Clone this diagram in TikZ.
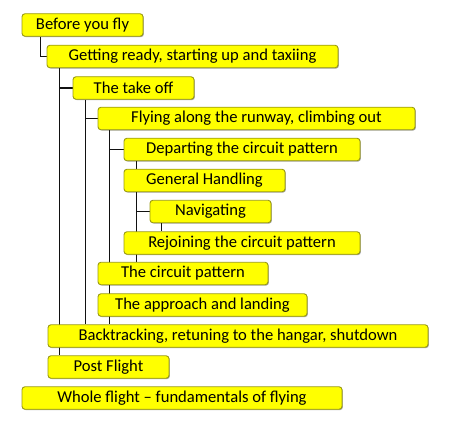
\documentclass[tikz,border=0pt]{standalone}
\usepackage{fontspec}
\setmainfont{Carlito}
\usetikzlibrary{shadows,backgrounds}
\definecolor{boxfill}{HTML}{FFFF00}
\definecolor{boxedge}{HTML}{9A9A10}
\definecolor{linec}{HTML}{111111}
\tikzset{
  box/.style={draw=boxedge, fill=boxfill, line width=0.9pt, rounded corners=3pt,
    minimum height=22.5pt, inner sep=0pt, align=center,
    font=\fontsize{16.6}{19}\selectfont,
    drop shadow={shadow xshift=0.9pt, shadow yshift=-0.9pt, opacity=0.35, fill=black}},
  conn/.style={draw=linec, line width=1.8pt}
}
\begin{document}
\begin{tikzpicture}[x=1pt,y=-1pt]
\useasboundingbox (0,0) rectangle (454,430);
\node[box, minimum width=121pt] (n1) at (82.5,25) {Before you fly};
\node[box, minimum width=291pt] (n2) at (192.5,56.5) {Getting ready, starting up and taxiing};
\node[box, minimum width=121pt] (n3) at (133.5,88) {The take off};
\node[box, minimum width=317pt] (n4) at (256.5,118.5) {Flying along the runway, climbing out};
\node[box, minimum width=236pt] (n5) at (242,149.5) {Departing the circuit pattern};
\node[box, minimum width=161pt] (n6) at (204.5,180.5) {General Handling};
\node[box, minimum width=121pt] (n7) at (210.5,211.5) {Navigating};
\node[box, minimum width=236pt] (n8) at (242,243) {Rejoining the circuit pattern};
\node[box, minimum width=170pt] (n9) at (183,273.5) {The circuit pattern};
\node[box, minimum width=209pt] (n10) at (202.5,305) {The approach and landing};
\node[box, minimum width=380pt] (n11) at (238,336) {Backtracking, retuning to the hangar, shutdown};
\node[box, minimum width=121pt] (n12) at (108.5,367) {Post Flight};
\node[box, minimum width=320pt] (n13) at (182,398) {Whole flight -- fundamentals of flying};
\begin{pgfonlayer}{background}
\draw[conn] ([xshift=19pt]n1.south west) |- (n2.west);
\draw[conn] ([xshift=13pt]n2.south west) coordinate (a2) -- (a2 |- n12.north);
\draw[conn] (a2 |- n3.west) -- (n3.west);
\draw[conn] ([xshift=13pt]n3.south west) coordinate (a3) -- (a3 |- n11.north);
\draw[conn] (a3 |- n4.west) -- (n4.west);
\draw[conn] ([xshift=12pt]n4.south west) coordinate (a4) -- (a4 |- n11.north);
\draw[conn] (a4 |- n5.west) -- (n5.west);
\draw[conn] ([xshift=13pt]n5.south west) coordinate (a5) -- (a5 |- n9.north);
\draw[conn] (a5 |- n7.west) -- (n7.west);
\draw[conn] ([xshift=12pt]n7.south west) coordinate (a7) -- (a7 |- n8.north);
\end{pgfonlayer}
\end{tikzpicture}
\end{document}
